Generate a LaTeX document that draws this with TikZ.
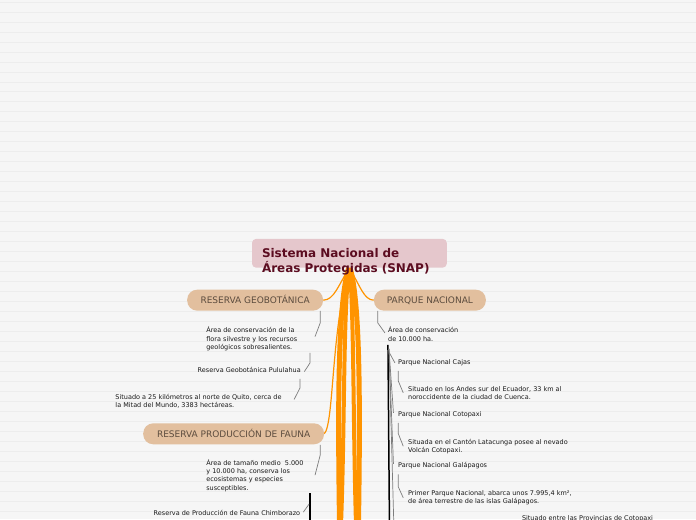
\documentclass[tikz,border=0pt]{standalone}
\usepackage{fontspec}
\setmainfont{DejaVu Sans}
\usetikzlibrary{calc}
\definecolor{bgpaper}{RGB}{246,246,246}
\definecolor{bgrule}{RGB}{237,237,237}
\definecolor{titlepink}{RGB}{229,199,204}
\definecolor{titlewine}{RGB}{92,12,32}
\definecolor{pilltan}{RGB}{226,191,158}
\definecolor{pillbrown}{RGB}{92,76,62}
\definecolor{trunkorange}{RGB}{255,148,0}
\definecolor{linkgray}{RGB}{125,125,125}
\definecolor{textdark}{RGB}{25,25,25}
\pgfdeclarelayer{paper}
\pgfdeclarelayer{wires}
\pgfsetlayers{paper,wires,main}

\begin{document}
\begin{tikzpicture}[x=1pt,y=-1pt,
        maintopic/.style={anchor=north west,fill=titlepink,rounded corners=4pt,
                          text width=175pt,inner xsep=10pt,inner ysep=9.8pt,align=left,
                          text depth=0pt,
                          text=titlewine,font=\fontsize{12}{15}\selectfont\bfseries},
        branch/.style={fill=pilltan,rounded corners=10pt,minimum height=21pt,
                       inner xsep=0pt,text=pillbrown,font=\fontsize{9}{11}\selectfont,
                       text height=6.6pt,text depth=0pt},
        leaf/.style={anchor=base west,inner sep=0pt,align=left,text=textdark,
                     font=\fontsize{6.5}{8.3}\selectfont},
        trunk/.style={draw=trunkorange},
        twig/.style={draw=trunkorange,line width=1.2pt},
        link/.style={draw=linkgray,line width=0.7pt},
        bundle/.style={draw=black,line width=1.5pt}]
      \begin{pgfonlayer}{paper}
        \fill[bgpaper] (0,0) rectangle (696,520);
        \foreach \y in {2,12,...,512}
          \draw[bgrule,line width=0.8pt] (0,\y) -- (696,\y);
      \end{pgfonlayer}
      \useasboundingbox (0,0) rectangle (696,520);
      \node[maintopic] (title) at (251.7,239) {Sistema Nacional de\\Áreas Protegidas (SNAP)};
      \node[branch,minimum width=136pt] (geo) at (255,300.5) {RESERVA GEOBOTÁNICA};
      \node[branch,minimum width=112pt] (parque) at (430,300.5) {PARQUE NACIONAL};
      \node[branch,minimum width=181pt] (fauna) at (233.5,434.3) {RESERVA PRODUCCIÓN DE FAUNA};
      \node[leaf] (geodesc) at (206,349.9) {Área de conservación de la\\flora silvestre y los recursos\\geológicos sobresalientes.};
      \node[leaf] (pulu) at (197.3,373.3) {Reserva Geobotánica Pululahua};
      \node[leaf] (puludesc) at (115,408.3) {Situado a 25 kilómetros al norte de Quito, cerca de\\la Mitad del Mundo, 3383 hectáreas.};
      \node[leaf] (faunadesc) at (206,490.6) {Área de tamaño medio\ \ 5.000\\y 10.000 ha, conserva los\\ecosistemas y especies\\susceptibles.};
      \node[leaf] (chimbo) at (153.3,515.7) {Reserva de Producción de Fauna Chimborazo};
      \node[leaf] (parquedesc) at (388,341.6) {Área de conservación\\de 10.000 ha.};
      \node[leaf] (cajas) at (398,365.3) {Parque Nacional Cajas};
      \node[leaf] (cajasdesc) at (408,400) {Situado en los Andes sur del Ecuador, 33 km al\\noroccidente de la ciudad de Cuenca.};
      \node[leaf] (coto) at (398,417.3) {Parque Nacional Cotopaxi};
      \node[leaf] (cotodesc) at (408,453.3) {Situada en el Cantón Latacunga posee al nevado\\Volcán Cotopaxi.};
      \node[leaf] (gala) at (398,468.3) {Parque Nacional Galápagos};
      \node[leaf] (galadesc) at (408,504) {Primer Parque Nacional, abarca unos 7.995,4 km²,\\de área terrestre de las islas Galápagos.};
      \node[leaf] (nextdesc) at (522,521.5) {Situado entre las Provincias de Cotopaxi};
      \begin{pgfonlayer}{wires}
        \draw[trunk,line width=5pt] ($(title.south)+(0,-2)$) .. controls (337,300) and (338,420) .. (339.5,525);
        \draw[trunk,line width=4pt] ($(title.south)+(0,-2)$) .. controls (343,310) and (345,420) .. (341,525);
        \draw[trunk,line width=4pt] ($(title.south)+(0,-2)$) .. controls (354,310) and (353,420) .. (356,525);
        \draw[trunk,line width=5pt] ($(title.south)+(0,-2)$) .. controls (361,300) and (360,420) .. (358.5,525);
        \draw[twig] (title.south) .. controls (338,286) and (334,300.5) .. (geo.east);
        \draw[twig] (title.south) .. controls (360,286) and (364,300.5) .. (parque.west);
        \draw[twig] (title.south) .. controls (331,330) and (334,425) .. (fauna.east);
        \draw[link] ($(geo.south east)+(-3,0)$) -- ++(0,12) -- ($(geodesc.base west)+(109,-12.9)$);
        \draw[link] ($(geodesc.base west)+(104,3.4)$) -- ++(0,10) -- ($(pulu.base west)+(107,-1.3)$);
        \draw[link] ($(pulu.base west)+(102.7,6)$) -- ++(0,9) -- ($(puludesc.base west)+(179,-8.3)$);
        \draw[link] ($(fauna.south east)+(-4,0.5)$) -- ++(0,10) -- ($(faunadesc.base west)+(109,-14.9)$);
        \draw[bundle] ($(faunadesc.base west)+(104,3.1)$) -- ++(0,40);
        \draw[link] ($(faunadesc.base west)+(103,14.1)$) -- ($(chimbo.base west)+(150,-3)$);
        \draw[link] ($(parque.south west)+(4,0)$) -- ++(0,12) -- ($(parquedesc.base west)+(-3,-8.3)$);
        \draw[bundle] ($(parquedesc.base west)+(0,3.7)$) -- ++(1.5,180);
        \draw[link] ($(parquedesc.base west)+(1.5,11.7)$) -- ($(cajas.base west)+(-3,-2)$);
        \draw[link] ($(parquedesc.base west)+(1,7.7)$) -- ($(coto.base west)+(-4.5,-4)$);
        \draw[link] ($(parquedesc.base west)+(1,7.7)$) -- ($(gala.base west)+(-4.5,-4)$);
        \draw[link] ($(parquedesc.base west)+(1,7.7)$) -- ++(5,180);
        \draw[link] ($(cajas.base west)+(0.3,6)$) -- ++(0,10) -- ($(cajasdesc.base west)+(-4.7,-6.7)$);
        \draw[link] ($(coto.base west)+(0.3,6)$) -- ++(0,10.7) -- ($(cotodesc.base west)+(-4.7,-6.6)$);
        \draw[link] ($(gala.base west)+(0.3,6.7)$) -- ++(0,12.3) -- ($(galadesc.base west)+(-4.7,-5.7)$);
      \end{pgfonlayer}
    \end{tikzpicture}
\end{document}
